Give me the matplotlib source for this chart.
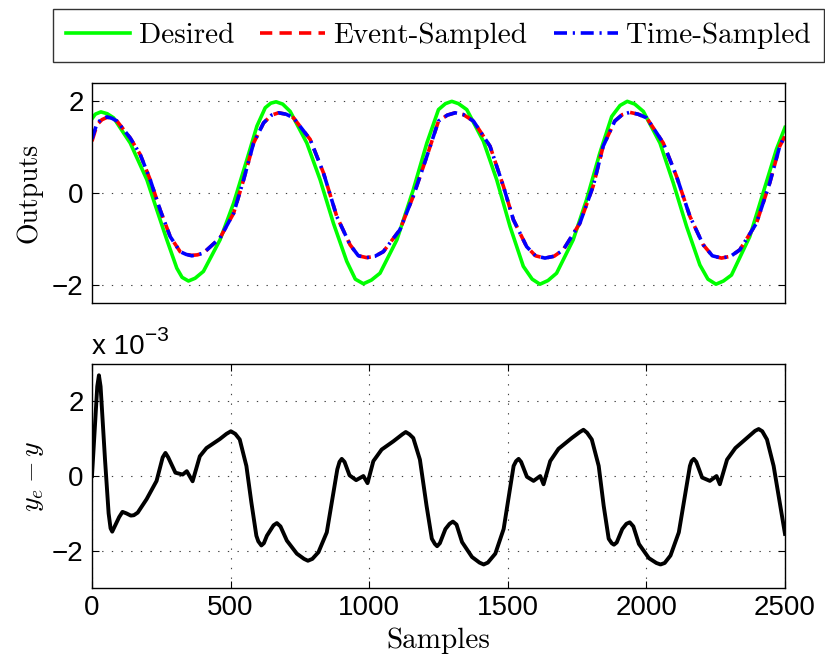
import numpy as np
import matplotlib
matplotlib.use('Agg')
import matplotlib.pyplot as plt

# 读取的数据 (samples, value)
desired_x = [0, 12, 32, 55, 78, 138, 198, 234, 270, 306, 325, 348, 372, 402, 462, 511, 559,
             595, 625, 645, 664, 688, 715, 775, 823, 871, 919, 950, 979, 1008, 1039, 1100,
             1159, 1208, 1250, 1275, 1298, 1322, 1352, 1412, 1460, 1508, 1556, 1588, 1616,
             1645, 1676, 1736, 1784, 1832, 1875, 1905, 1931, 1958, 1989, 2049, 2097, 2145,
             2193, 2222, 2251, 2278, 2307, 2373, 2421, 2469, 2500]
desired_y = [1.62, 1.72, 1.77, 1.73, 1.64, 1.09, 0.29, -0.37, -1.02, -1.64, -1.84, -1.92,
             -1.86, -1.71, -1.02, -0.22, 0.73, 1.46, 1.86, 1.96, 1.99, 1.94, 1.78, 1.09,
             0.29, -0.66, -1.49, -1.88, -1.98, -1.90, -1.75, -1.02, 0.07, 1.09, 1.82, 1.95,
             2.0, 1.95, 1.82, 1.13, 0.29, -0.73, -1.60, -1.88, -1.99, -1.91, -1.75, -1.02,
             -0.15, 0.87, 1.67, 1.91, 2.0, 1.94, 1.78, 1.09, 0.22, -0.73, -1.57, -1.88,
             -1.99, -1.92, -1.79, -0.95, 0.0, 0.95, 1.43]

event_x = [0, 18, 36, 54, 72, 90, 138, 174, 210, 246, 282, 318, 340, 360, 380, 402, 462,
           511, 547, 583, 619, 648, 673, 700, 727, 787, 835, 883, 931, 961, 991, 1021,
           1051, 1111, 1159, 1208, 1250, 1282, 1310, 1340, 1376, 1436, 1484, 1520, 1568,
           1600, 1634, 1667, 1700, 1760, 1808, 1844, 1886, 1913, 1940, 1970, 2001, 2061,
           2109, 2157, 2205, 2238, 2271, 2304, 2337, 2397, 2445, 2481, 2500]
event_y = [1.13, 1.49, 1.60, 1.65, 1.63, 1.57, 1.20, 0.84, 0.29, -0.37, -0.95, -1.28,
           -1.34, -1.36, -1.35, -1.31, -0.98, -0.44, 0.29, 1.09, 1.53, 1.70, 1.75, 1.72,
           1.64, 1.17, 0.44, -0.51, -1.13, -1.37, -1.41, -1.38, -1.28, -0.80, -0.07, 0.80,
           1.57, 1.70, 1.75, 1.71, 1.57, 1.02, 0.15, -0.58, -1.17, -1.37, -1.42, -1.38,
           -1.24, -0.66, 0.15, 1.02, 1.57, 1.71, 1.76, 1.72, 1.64, 1.09, 0.36, -0.51,
           -1.13, -1.37, -1.42, -1.38, -1.24, -0.66, 0.22, 1.02, 1.24]

time_x = [0, 18, 36, 54, 72, 90, 138, 174, 210, 246, 282, 318, 340, 360, 380, 402, 462,
          511, 547, 583, 619, 648, 673, 700, 727, 787, 835, 883, 931, 961, 991, 1021,
          1051, 1111, 1159, 1208, 1250, 1282, 1310, 1340, 1376, 1436, 1484, 1520, 1568,
          1600, 1634, 1667, 1700, 1760, 1808, 1844, 1886, 1913, 1940, 1970, 2001, 2061,
          2109, 2157, 2205, 2238, 2271, 2304, 2337, 2397, 2445, 2481, 2500]
time_y = [1.18, 1.52, 1.62, 1.66, 1.63, 1.57, 1.20, 0.84, 0.29, -0.37, -0.95, -1.28,
          -1.34, -1.37, -1.35, -1.31, -0.98, -0.44, 0.29, 1.09, 1.53, 1.70, 1.75, 1.72,
          1.64, 1.17, 0.44, -0.51, -1.13, -1.37, -1.41, -1.38, -1.28, -0.80, -0.07, 0.80,
          1.57, 1.70, 1.75, 1.71, 1.57, 1.02, 0.15, -0.58, -1.17, -1.37, -1.42, -1.38,
          -1.24, -0.66, 0.15, 1.02, 1.57, 1.71, 1.76, 1.72, 1.64, 1.09, 0.36, -0.51,
          -1.13, -1.37, -1.42, -1.38, -1.24, -0.66, 0.22, 1.02, 1.26]

# 误差 (x 10^-3)
err_x = [0, 15, 19, 25, 31, 47, 60, 67, 73, 82, 98, 110, 124, 140, 151, 165, 197, 233, 255,
         265, 275, 301, 327, 342, 363, 389, 413, 461, 485, 501, 517, 533, 557, 575, 593,
         600, 611, 620, 631, 655, 667, 680, 703, 739, 765, 779, 795, 817, 847, 871, 885,
         893, 901, 911, 929, 953, 979, 994, 1015, 1045, 1087, 1120, 1132, 1145, 1159, 1183,
         1207, 1226, 1237, 1245, 1255, 1275, 1290, 1302, 1315, 1335, 1371, 1398, 1413,
         1428, 1455, 1485, 1506, 1521, 1530, 1539, 1548, 1569, 1593, 1617, 1629, 1653,
         1683, 1731, 1760, 1773, 1786, 1803, 1828, 1846, 1864, 1875, 1883, 1893, 1913,
         1928, 1940, 1953, 1973, 2009, 2036, 2051, 2066, 2087, 2117, 2141, 2157, 2163,
         2171, 2180, 2201, 2229, 2253, 2265, 2291, 2321, 2363, 2392, 2405, 2418, 2435,
         2459, 2483, 2500]
err_y = [0.0, 1.9, 2.4, 2.70, 2.4, 0.44, -1.0, -1.40, -1.49, -1.35, -1.10, -0.96, -1.00,
         -1.06, -1.05, -0.98, -0.62, -0.13, 0.50, 0.62, 0.50, 0.09, 0.04, 0.13, -0.14, 0.53,
         0.75, 0.99, 1.13, 1.20, 1.13, 0.98, 0.27, -0.71, -1.60, -1.75, -1.86, -1.80,
         -1.60, -1.32, -1.26, -1.35, -1.73, -2.08, -2.22, -2.27, -2.22, -2.04, -1.51,
         -0.44, 0.18, 0.38, 0.46, 0.38, 0.02, -0.11, 0.0, -0.19, 0.40, 0.71, 0.93, 1.12,
         1.18, 1.12, 1.02, 0.44, -0.80, -1.68, -1.82, -1.88, -1.80, -1.42, -1.28, -1.22,
         -1.30, -1.77, -2.17, -2.32, -2.37, -2.32, -2.08, -1.42, -0.44, 0.27, 0.40, 0.46,
         0.38, -0.02, -0.13, 0.0, -0.22, 0.40, 0.73, 1.02, 1.18, 1.24, 1.16, 0.98, 0.27,
         -0.80, -1.68, -1.80, -1.84, -1.78, -1.42, -1.28, -1.24, -1.35, -1.82, -2.20,
         -2.33, -2.37, -2.33, -2.13, -1.51, -0.44, 0.27, 0.40, 0.46, 0.38, -0.04, -0.13,
         0.0, -0.22, 0.44, 0.75, 1.02, 1.21, 1.26, 1.20, 0.98, 0.27, -0.80, -1.55]

serif = 'cmr10'
sans = 'Liberation Sans'
plt.rcParams['mathtext.fontset'] = 'cm'
plt.rcParams['axes.unicode_minus'] = True

fig = plt.figure(figsize=(8.25, 6.62), dpi=100)
ax1 = fig.add_axes([0.1115, 0.5423, 0.84, 0.3323])
ax2 = fig.add_axes([0.1115, 0.1118, 0.84, 0.3382])

grid_kw = dict(color='0.25', linestyle=(0, (1.2, 7.5)), linewidth=0.8)

# 上图
l1, = ax1.plot(desired_x, desired_y, color='#00ff00', lw=2.6, label='Desired')
l2, = ax1.plot(event_x, event_y, color='red', lw=2.6, linestyle=(0, (3.4, 2.0)),
               label='Event-Sampled')
l3, = ax1.plot(time_x, time_y, color='blue', lw=2.6, linestyle=(0, (3.6, 1.6, 0.6, 1.6)),
               label='Time-Sampled')
ax1.set_xlim(0, 2500)
ax1.set_ylim(-2.4, 2.4)
ax1.set_yticks([-2, 0, 2])
ax1.set_xticks([])
ax1.yaxis.grid(True, **grid_kw)
ax1.set_ylabel('Outputs', family=serif, fontsize=20)
ax1.yaxis.set_label_coords(-0.071, 0.5)

# 下图
ax2.plot(err_x, err_y, color='black', lw=2.8)
ax2.set_xlim(0, 2500)
ax2.set_ylim(-3, 3)
ax2.set_yticks([-2, 0, 2])
ax2.set_xticks(np.arange(0, 2501, 500))
ax2.grid(True, **grid_kw)
ax2.set_xlabel('Samples', family=serif, fontsize=21, labelpad=5)
ax2.set_ylabel('$y_e - y$', fontsize=20)
ax2.yaxis.set_label_coords(-0.066, 0.5)

t = ax2.text(0.0, 1.02, 'x 10', transform=ax2.transAxes, fontsize=20, family=sans,
             ha='left', va='bottom')
ax2.annotate('\u22123', xy=(1.0, 0.55), xycoords=t, fontsize=15, family=sans,
             ha='left', va='bottom')

for ax in (ax1, ax2):
    ax.tick_params(direction='in', length=5, width=0.8, top=True, right=True,
                   labelsize=20, pad=6)
    for lab in ax.get_xticklabels() + ax.get_yticklabels():
        lab.set_family(sans)
    for s in ax.spines.values():
        s.set_linewidth(1.0)
ax2.tick_params(axis='x', pad=5)

leg = fig.legend(handles=[l1, l2, l3], loc='center', bbox_to_anchor=(0.5315, 0.946),
                 ncol=3, prop={'family': serif, 'size': 21}, frameon=True,
                 fancybox=False, edgecolor='black', handlelength=2.2,
                 columnspacing=0.9, handletextpad=0.3, borderpad=0.45)
leg.get_frame().set_linewidth(1.0)

fig.savefig('out.png', dpi=100)
